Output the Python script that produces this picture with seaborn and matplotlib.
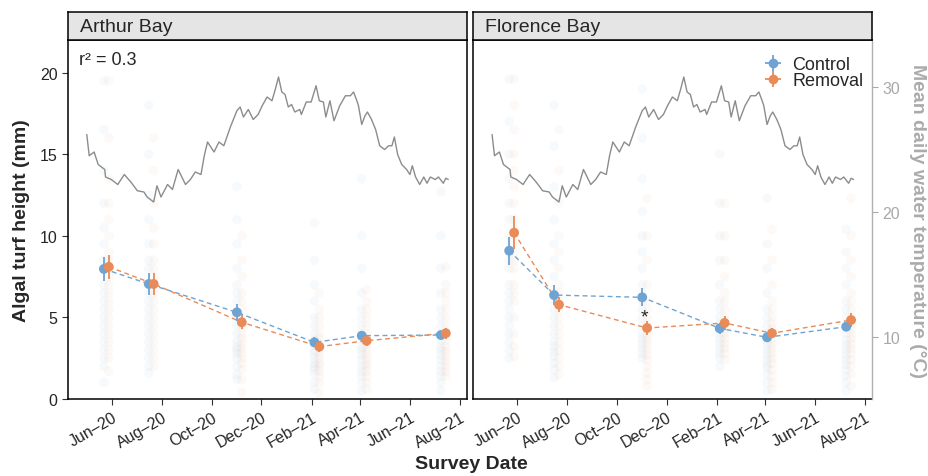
import pandas as pd
import matplotlib
matplotlib.use("Agg")
import matplotlib.pyplot as plt
import matplotlib.dates as mdates
from matplotlib.lines import Line2D
import seaborn as sns

sns.set_style("ticks")
plt.rcParams['font.family'] = ['Liberation Sans', 'DejaVu Sans']

# --- data ---
sites = ['Arthur Bay', 'Florence Bay']
treatments = ['Control', 'Removal']
survey_dates = ['2020-05-25', '2020-07-19', '2020-11-04', '2021-02-07', '2021-04-06', '2021-07-12']

arthur_control_mean = [7.97, 7.05, 5.31, 3.47, 3.88, 3.92]
arthur_control_se = [0.72, 0.67, 0.50, 0.30, 0.30, 0.25]
arthur_removal_mean = [8.10, 7.05, 4.70, 3.21, 3.57, 4.03]
arthur_removal_se = [0.74, 0.65, 0.43, 0.30, 0.30, 0.35]
florence_control_mean = [9.09, 6.37, 6.23, 4.33, 3.78, 4.43]
florence_control_se = [0.85, 0.60, 0.55, 0.35, 0.30, 0.25]
florence_removal_mean = [10.19, 5.78, 4.35, 4.66, 4.03, 4.84]
florence_removal_se = [1.00, 0.47, 0.40, 0.45, 0.30, 0.45]

# raw turf heights (mm), one list per survey
arthur_control_raw = [
    [19.5, 16.5, 14.0, 12.0, 10.5, 9.5, 8.5, 8.0, 7.0, 6.5, 6.0, 5.5, 5.0, 4.5, 4.0, 3.5, 3.0, 2.5, 2.0, 1.0],
    [18.0, 15.0, 12.5, 11.0, 9.5, 8.5, 8.0, 7.0, 6.5, 6.0, 5.5, 5.0, 4.5, 4.0, 3.5, 3.0, 2.5, 2.0, 1.6],
    [13.0, 11.0, 9.5, 8.0, 7.0, 6.5, 6.0, 5.0, 4.5, 4.0, 3.5, 3.2, 3.0, 2.8, 2.5, 2.0, 1.5, 1.2],
    [10.8, 8.5, 7.0, 6.0, 5.0, 4.5, 4.0, 3.6, 3.3, 3.0, 2.8, 2.5, 2.2, 2.0, 1.8, 1.5, 1.0, 0.6],
    [13.5, 10.0, 8.0, 6.5, 5.5, 5.0, 4.5, 4.0, 3.6, 3.2, 3.0, 2.7, 2.4, 2.0, 1.7, 1.4, 1.0, 0.5],
    [12.7, 10.0, 8.0, 6.5, 5.5, 5.0, 4.5, 4.0, 3.6, 3.2, 3.0, 2.7, 2.4, 2.0, 1.7, 1.4, 1.0, 0.5],
]
arthur_removal_raw = [
    [19.5, 16.0, 13.5, 12.0, 11.0, 10.0, 9.0, 8.5, 8.0, 7.5, 7.0, 6.5, 6.0, 5.5, 5.0, 4.5, 4.0, 3.5, 3.0, 2.5, 1.7],
    [16.0, 14.0, 12.0, 10.5, 9.5, 8.5, 8.0, 7.5, 7.0, 6.5, 6.0, 5.5, 5.0, 4.5, 4.0, 3.5, 3.0, 2.5, 2.0],
    [10.0, 8.5, 7.5, 6.5, 6.0, 5.5, 5.0, 4.5, 4.0, 3.7, 3.4, 3.1, 2.8, 2.5, 2.2, 1.8, 1.2, 0.4],
    [6.5, 5.5, 5.0, 4.5, 4.0, 3.7, 3.4, 3.1, 2.8, 2.5, 2.2, 2.0, 1.7, 1.4, 1.0, 0.4],
    [6.7, 6.0, 5.5, 5.0, 4.5, 4.0, 3.7, 3.4, 3.1, 2.8, 2.5, 2.2, 2.0, 1.7, 1.4, 1.0, 0.6],
    [8.1, 7.0, 6.5, 6.0, 5.5, 5.0, 4.5, 4.0, 3.6, 3.2, 2.9, 2.6, 2.3, 2.0, 1.7, 1.4],
]
florence_control_raw = [
    [19.6, 17.0, 15.0, 13.5, 12.0, 11.0, 10.0, 9.0, 8.5, 8.0, 7.0, 6.5, 6.0, 5.5, 5.0, 4.5, 4.0, 3.5, 3.0, 2.5],
    [18.0, 15.5, 13.0, 11.0, 9.5, 8.5, 7.5, 6.5, 6.0, 5.5, 5.0, 4.5, 4.0, 3.5, 3.2, 2.9, 2.6, 2.2, 1.8, 1.3],
    [19.0, 16.0, 13.5, 11.5, 10.0, 9.0, 8.0, 7.0, 6.5, 6.0, 5.5, 5.0, 4.5, 4.0, 3.7, 3.4, 3.1, 2.8, 2.5],
    [15.0, 12.0, 10.0, 8.5, 7.0, 6.0, 5.5, 5.0, 4.6, 4.3, 4.0, 3.7, 3.4, 3.1, 2.8, 2.5, 2.0],
    [12.3, 9.5, 8.0, 6.5, 5.5, 5.0, 4.5, 4.0, 3.6, 3.3, 3.0, 2.7, 2.4, 2.1, 1.9, 1.5, 1.0, 0.5],
    [10.4, 9.0, 8.0, 7.0, 6.0, 5.5, 5.0, 4.5, 4.0, 3.6, 3.3, 3.0, 2.7, 2.4, 2.1, 1.8, 1.4, 1.0, 0.5],
]
florence_removal_raw = [
    [19.6, 18.0, 16.5, 15.0, 14.0, 13.0, 12.0, 11.0, 10.5, 10.0, 9.5, 9.0, 8.5, 8.0, 7.0, 6.5, 6.0, 5.0, 4.0, 3.2, 2.6],
    [16.5, 14.0, 12.0, 10.0, 9.0, 8.0, 7.0, 6.5, 6.0, 5.5, 5.0, 4.5, 4.0, 3.5, 3.0, 2.5, 2.0, 1.5],
    [12.3, 10.0, 8.5, 7.0, 6.0, 5.5, 5.0, 4.5, 4.2, 3.9, 3.6, 3.3, 3.0, 2.7, 2.4, 2.0, 1.6, 1.2, 0.8],
    [12.0, 10.0, 8.5, 7.5, 6.5, 6.0, 5.5, 5.0, 4.6, 4.3, 4.0, 3.7, 3.4, 3.1, 2.8, 2.4],
    [10.4, 8.5, 7.0, 6.0, 5.5, 5.0, 4.6, 4.3, 4.0, 3.7, 3.4, 3.1, 2.8, 2.5, 2.2, 1.8, 1.4, 1.0, 0.6],
    [12.3, 10.0, 8.5, 7.5, 6.5, 6.0, 5.5, 5.0, 4.6, 4.3, 4.0, 3.7, 3.4, 3.1, 2.8, 2.4, 2.0, 1.5, 0.8],
]

# mean daily water temperature (deg C)
temp_dates = [
    '2020-05-01', '2020-05-04', '2020-05-10', '2020-05-15', '2020-05-23', '2020-05-24', '2020-05-31',
    '2020-06-08', '2020-06-16', '2020-06-24', '2020-07-02', '2020-07-10', '2020-07-14', '2020-07-22',
    '2020-07-26', '2020-07-31', '2020-08-08', '2020-08-14', '2020-08-21', '2020-08-30', '2020-09-05',
    '2020-09-11', '2020-09-18', '2020-09-22', '2020-09-26', '2020-10-04', '2020-10-10', '2020-10-16',
    '2020-10-24', '2020-11-01', '2020-11-05', '2020-11-09', '2020-11-15', '2020-11-21', '2020-11-27',
    '2020-12-02', '2020-12-08', '2020-12-14', '2020-12-18', '2020-12-22', '2020-12-26', '2020-12-30',
    '2021-01-03', '2021-01-07', '2021-01-11', '2021-01-17', '2021-01-19', '2021-01-25', '2021-01-31',
    '2021-02-06', '2021-02-10', '2021-02-15', '2021-02-18', '2021-02-23', '2021-02-28', '2021-03-07',
    '2021-03-14', '2021-03-20', '2021-03-24', '2021-03-28', '2021-03-30', '2021-04-03', '2021-04-07',
    '2021-04-10', '2021-04-15', '2021-04-20', '2021-04-25', '2021-05-01', '2021-05-06', '2021-05-10',
    '2021-05-13', '2021-05-17', '2021-05-22', '2021-05-28', '2021-06-01', '2021-06-04', '2021-06-08',
    '2021-06-13', '2021-06-18', '2021-06-22', '2021-06-26', '2021-07-02', '2021-07-06', '2021-07-12',
    '2021-07-15', '2021-07-18',
]
temp_values = [
    26.2, 24.5, 24.8, 23.8, 23.4, 22.8, 22.6,
    22.2, 23.0, 22.4, 21.7, 21.6, 21.2, 20.8,
    22.1, 21.2, 22.2, 21.8, 23.4, 22.2, 22.6,
    23.2, 23.0, 24.5, 25.6, 24.8, 25.6, 25.3,
    26.8, 28.1, 28.4, 27.6, 28.2, 27.4, 27.8,
    28.5, 29.2, 28.9, 29.8, 30.8, 29.6, 29.4,
    28.4, 28.6, 28.0, 28.2, 27.8, 28.8, 28.8,
    30.1, 28.9, 28.8, 27.6, 28.9, 27.3, 28.5,
    29.3, 29.3, 29.6, 28.9, 28.5, 27.0, 27.7,
    28.0, 27.4, 26.6, 25.3, 25.0, 25.3, 25.3,
    26.0, 24.6, 23.8, 23.4, 23.0, 23.7, 22.8,
    22.2, 22.8, 22.3, 22.8, 22.6, 22.8, 22.3,
    22.7, 22.6,
]

palette = {'Control': '#6fa3d2', 'Removal': '#e88b58'}
dodge = {'Control': -3, 'Removal': 3}

# --- build tables ---
means = {('Arthur Bay', 'Control'): (arthur_control_mean, arthur_control_se),
         ('Arthur Bay', 'Removal'): (arthur_removal_mean, arthur_removal_se),
         ('Florence Bay', 'Control'): (florence_control_mean, florence_control_se),
         ('Florence Bay', 'Removal'): (florence_removal_mean, florence_removal_se)}
raws = {('Arthur Bay', 'Control'): arthur_control_raw,
        ('Arthur Bay', 'Removal'): arthur_removal_raw,
        ('Florence Bay', 'Control'): florence_control_raw,
        ('Florence Bay', 'Removal'): florence_removal_raw}

dates = pd.to_datetime(survey_dates)
summ_rows, raw_rows = [], []
for (site, trt), (m, se) in means.items():
    for d, mv, sv in zip(dates, m, se):
        summ_rows.append({'site': site, 'treatment': trt,
                          'date': d + pd.Timedelta(days=dodge[trt]), 'mean': mv, 'se': sv})
for (site, trt), lists in raws.items():
    for d, vals in zip(dates, lists):
        for v in vals:
            raw_rows.append({'site': site, 'treatment': trt,
                             'date': d + pd.Timedelta(days=dodge[trt]), 'height': v})
summ = pd.DataFrame(summ_rows)
raw = pd.DataFrame(raw_rows)
temp = pd.DataFrame({'date': pd.to_datetime(temp_dates), 'temp': temp_values})

# --- figure ---
W, H = 929, 477
fig = plt.figure(figsize=(W / 100, H / 100), dpi=100)
panel_left = [68, 473.3]
panel_w = 399
p_top, p_bot = 41, 400
strip_top = 13

xlim = (pd.Timestamp('2020-04-08'), pd.Timestamp('2021-08-10'))
temp_lim = (5.04, 33.76)

for i, site in enumerate(sites):
    ax = fig.add_axes([panel_left[i] / W, 1 - p_bot / H, panel_w / W, (p_bot - p_top) / H])
    s_raw = raw[raw.site == site]
    s_sum = summ[summ.site == site]

    sns.scatterplot(data=s_raw, x='date', y='height', hue='treatment', palette=palette,
                    alpha=0.05, s=48, edgecolor='none', legend=False, ax=ax, zorder=1)
    for trt in treatments:
        d = s_sum[s_sum.treatment == trt]
        sns.lineplot(data=d, x='date', y='mean', color=palette[trt], estimator=None,
                     linestyle=(0, (3.5, 2.5)), lw=1.0, ax=ax, zorder=2)
        ax.errorbar(d['date'], d['mean'], yerr=d['se'], fmt='none',
                    ecolor=palette[trt], elinewidth=1.3, capsize=0, zorder=3)
    sns.scatterplot(data=s_sum, x='date', y='mean', hue='treatment', palette=palette,
                    s=50, edgecolor='none', legend=False, ax=ax, zorder=4)

    ax.set_xlim(xlim)
    ax.set_ylim(0, 22)
    ax.set_xlabel('')
    ax.set_ylabel('')
    ax.xaxis.set_major_locator(mdates.MonthLocator(bymonth=[2, 4, 6, 8, 10, 12]))
    ax.xaxis.set_major_formatter(mdates.DateFormatter('%b\u2013%y'))
    ax.set_yticks([0, 5, 10, 15, 20])
    ax.tick_params(axis='both', length=4, width=0.8, labelsize=11.5, color='#333333')
    for lab in ax.get_xticklabels():
        lab.set_rotation(30)
        lab.set_ha('right')
        lab.set_rotation_mode('anchor')
    for sp in ax.spines.values():
        sp.set_linewidth(1.1)
        sp.set_color('black')

    tw = ax.twinx()
    sns.lineplot(data=temp, x='date', y='temp', color='#8c8c8c', lw=1.0, ax=tw)
    tw.set_ylim(temp_lim)
    tw.set_xlim(xlim)
    tw.set_ylabel('')

    if i == 0:
        tw.axis('off')
        ax.text(0.028, 0.947, 'r\u00b2 = 0.3', transform=ax.transAxes,
                fontsize=13, ha='left', va='center')
    else:
        ax.tick_params(axis='y', left=False, labelleft=False)
        ax.spines['right'].set_visible(False)
        for k in ['top', 'left', 'bottom']:
            tw.spines[k].set_visible(False)
        tw.spines['right'].set_color('#b0b0b0')
        tw.spines['right'].set_linewidth(1.0)
        tw.set_yticks([10, 20, 30])
        tw.tick_params(axis='y', length=4, width=0.8, colors='#a8a8a8', labelsize=11.5)
        ax.text(pd.Timestamp('2020-11-04'), 5.0, '*', fontsize=14, ha='center', va='center')
        handles = []
        for trt in treatments:
            handles.append((Line2D([], [], color=palette[trt], marker='o', ms=6, ls='none'),
                            Line2D([], [], color=palette[trt], marker='+', ms=11, mew=1.3, ls='none')))
        ax.legend(handles, treatments, loc='upper right', bbox_to_anchor=(1.018, 1.0),
                  frameon=False, fontsize=13, handlelength=1.0, handletextpad=0.55,
                  labelspacing=-0.05, borderpad=0.3, borderaxespad=0.6)

    strip = fig.add_axes([panel_left[i] / W, 1 - p_top / H, panel_w / W, (p_top - strip_top) / H])
    strip.set_facecolor('#e5e5e5')
    strip.set_xticks([])
    strip.set_yticks([])
    for sp in strip.spines.values():
        sp.set_linewidth(1.1)
        sp.set_color('black')
    strip.text(12 / panel_w, 0.5, site, fontsize=14, ha='left', va='center')

fig.text(22 / W, 1 - 221 / H, 'Algal turf height (mm)', rotation=90, fontsize=14,
         fontweight='bold', ha='center', va='center')
fig.text(918 / W, 1 - 221 / H, 'Mean daily water temperature (\u00b0C)', rotation=270,
         fontsize=14, fontweight='bold', color='#ababab', ha='center', va='center')
fig.text(471 / W, 1 - 465 / H, 'Survey Date', fontsize=14, fontweight='bold',
         ha='center', va='center')

fig.savefig('out.png', dpi=100)
